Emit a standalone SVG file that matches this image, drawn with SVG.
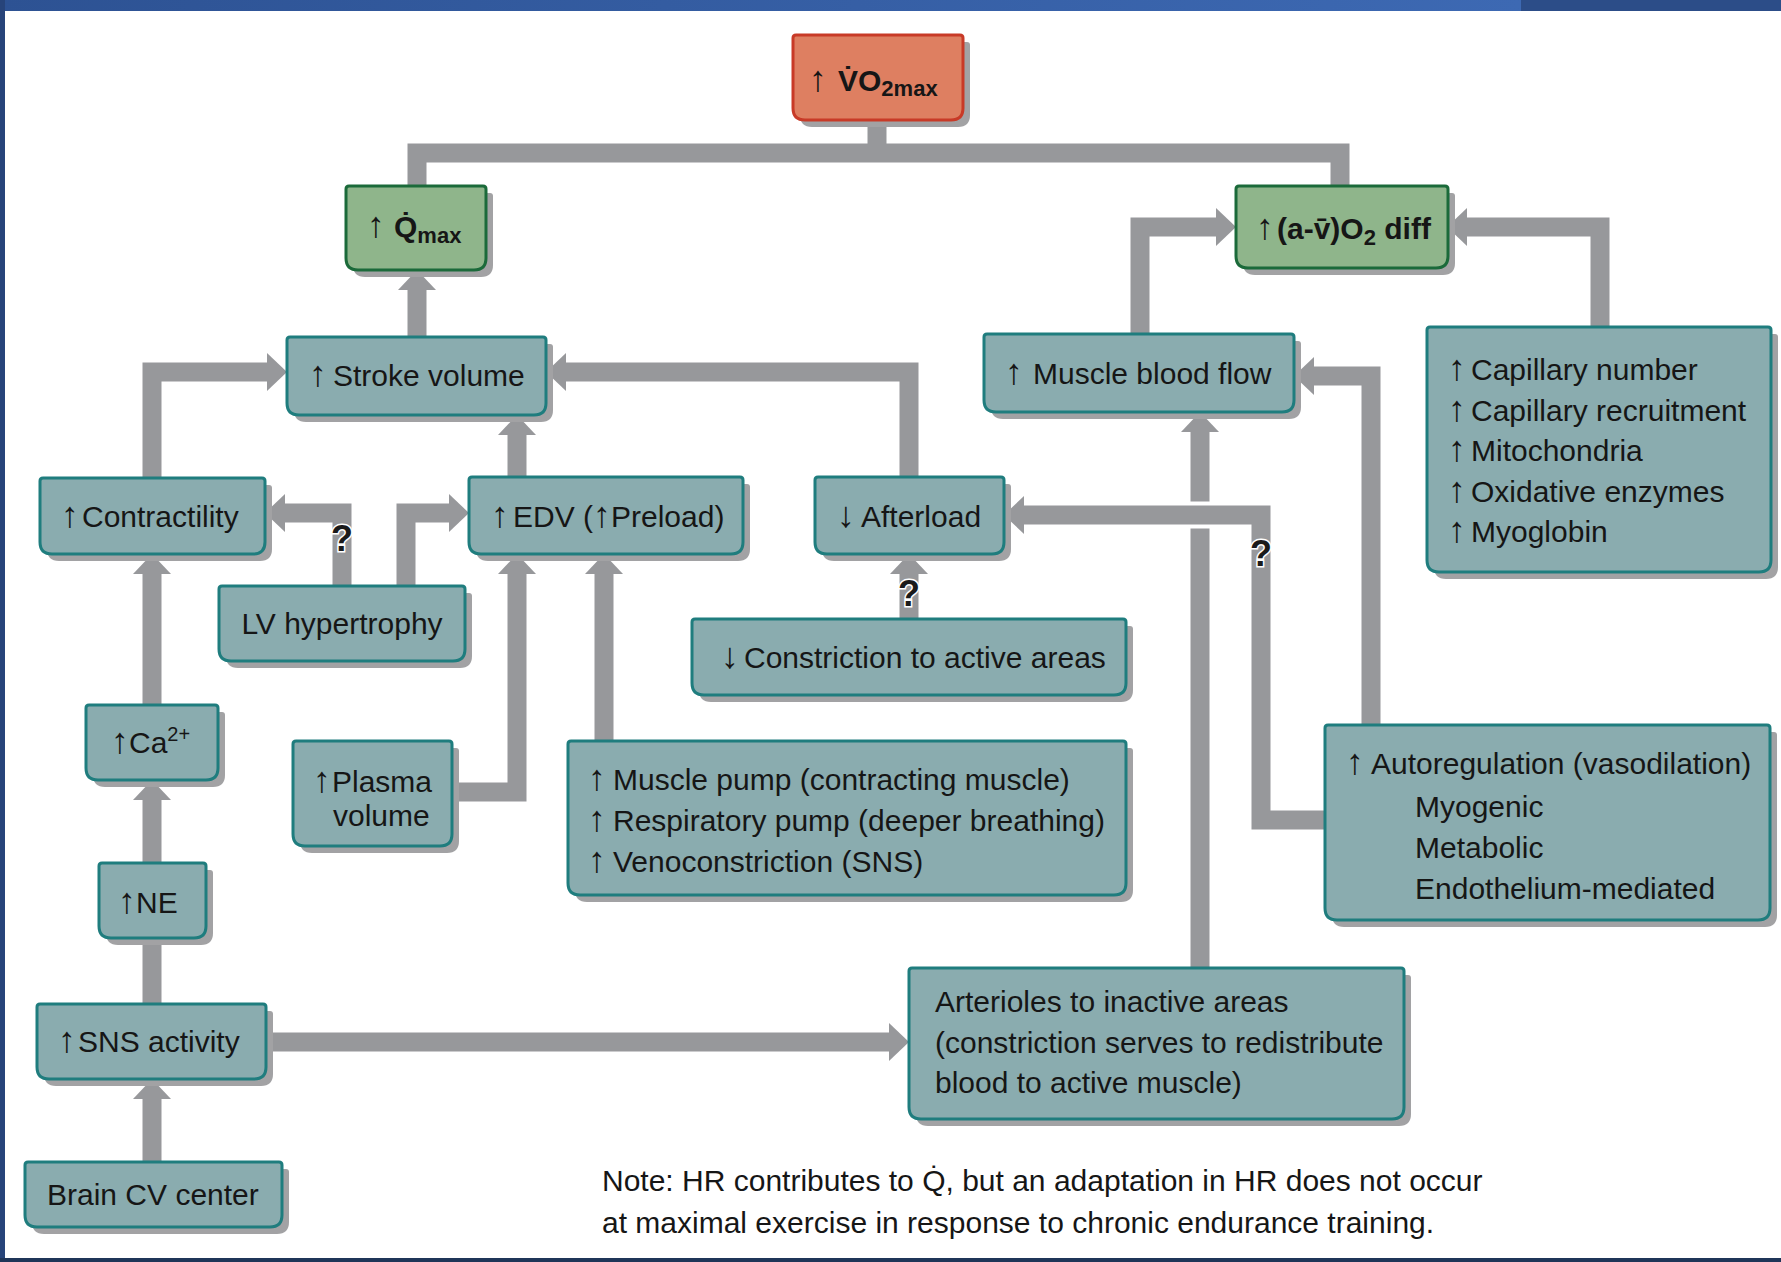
<svg xmlns="http://www.w3.org/2000/svg" xmlns:xlink="http://www.w3.org/1999/xlink" width="1781" height="1262" viewBox="0 0 1781 1262">
<style>
.node{fill:#8aacaf;stroke:#1f7d7e;stroke-width:3}
.green{fill:#8fb58b;stroke:#1b6a3a}
.red{fill:#de7f61;stroke:#c83a27}
.sh{fill:#a2a2a4;stroke:none}
.t{font-family:"Liberation Sans",Arial,sans-serif;font-size:30px;fill:#161616;stroke:none}
.b{font-weight:bold}
.ar{font-size:36px;font-weight:bold}
.con{fill:none;stroke:#97989b;stroke-width:19;stroke-linejoin:miter;stroke-linecap:butt}
.q{font-family:"Liberation Sans",Arial,sans-serif;font-size:36px;font-weight:bold;fill:#1a1a1a;stroke:#ffffff;stroke-width:3;paint-order:stroke;text-anchor:middle}
</style>
<defs>
<linearGradient id="topg" x1="0" y1="0" x2="1" y2="0">
<stop offset="0" stop-color="#2d5293"/>
<stop offset="1" stop-color="#3d69b3"/>
</linearGradient>
<marker id="ah" markerUnits="userSpaceOnUse" markerWidth="22" markerHeight="40" viewBox="0 -20 22 40" refX="0" refY="0" orient="auto" overflow="visible">
<path d="M0,-19 L20,0 L0,19 Z" fill="#97989b"/>
</marker>
</defs>
<rect x="0" y="0" width="1781" height="1262" fill="#ffffff"/>
<rect x="0" y="0" width="1521" height="11" fill="url(#topg)"/>
<rect x="1521" y="0" width="260" height="11" fill="#2c4d88"/>
<rect x="0" y="0" width="5" height="1262" fill="#27447a"/>
<rect x="0" y="1258" width="1781" height="4" fill="#1f3558"/>

<g id="connectors">
<path class="con" d="M417,186 V153 H1340 V186"/>
<path class="con" d="M877,120 V153"/>
<path class="con" d="M417,337 V290" marker-end="url(#ah)"/>
<path class="con" d="M152,478 V372 H267" marker-end="url(#ah)"/>
<path class="con" d="M517,477 V435" marker-end="url(#ah)"/>
<path class="con" d="M909,477 V372 H566" marker-end="url(#ah)"/>
<path class="con" d="M342,586 V513 H285" marker-end="url(#ah)"/>
<path class="con" d="M406,586 V513 H449" marker-end="url(#ah)"/>
<path class="con" d="M452,792 H517 V574" marker-end="url(#ah)"/>
<path class="con" d="M604,741 V574" marker-end="url(#ah)"/>
<path class="con" d="M909,619 V574" marker-end="url(#ah)"/>
<path class="con" d="M1200,968 V432" marker-end="url(#ah)"/>
<path d="M1186,515 H1214" fill="none" stroke="#ffffff" stroke-width="27"/>
<path class="con" d="M1325,820 H1261 V515 H1024" marker-end="url(#ah)"/>
<path class="con" d="M1371,725 V376 H1314" marker-end="url(#ah)"/>
<path class="con" d="M1140,334 V227 H1216" marker-end="url(#ah)"/>
<path class="con" d="M1600,327 V227 H1467" marker-end="url(#ah)"/>
<path class="con" d="M152,705 V574" marker-end="url(#ah)"/>
<path class="con" d="M152,863 V800" marker-end="url(#ah)"/>
<path class="con" d="M152,1004 V938"/>
<path class="con" d="M152,1162 V1099" marker-end="url(#ah)"/>
<path class="con" d="M266,1042 H889" marker-end="url(#ah)"/>
<text class="q" x="342" y="551">?</text>
<text class="q" x="909" y="606">?</text>
<text class="q" x="1261" y="566">?</text>
</g>

<g id="n-vo2" class="node red">
<use xlink:href="#b-vo2" class="sh" transform="translate(7,7)"/>
<path id="b-vo2" d="M796,35 H960 Q963,35 963,38 V108 Q963,120 951,120 H805 Q793,120 793,108 V38 Q793,35 796,35 Z"/>
<text class="t b" x="809" y="91"><tspan class="ar">↑</tspan><tspan x="838">V̇O</tspan><tspan font-size="22" dy="5">2max</tspan></text>
</g>

<g id="n-qmax" class="node green">
<use xlink:href="#b-qmax" class="sh" transform="translate(7,7)"/>
<path id="b-qmax" d="M349,186 H483 Q486,186 486,189 V258 Q486,270 474,270 H358 Q346,270 346,258 V189 Q346,186 349,186 Z"/>
<text class="t b" x="367" y="237"><tspan class="ar">↑</tspan><tspan x="394">Q̇</tspan><tspan font-size="22" dy="6">max</tspan></text>
</g>

<g id="n-avo2" class="node green">
<use xlink:href="#b-avo2" class="sh" transform="translate(7,7)"/>
<path id="b-avo2" d="M1239,186 H1445 Q1448,186 1448,189 V256 Q1448,268 1436,268 H1248 Q1236,268 1236,256 V189 Q1236,186 1239,186 Z"/>
<text class="t b" x="1256" y="239"><tspan class="ar">↑</tspan><tspan x="1277">(a-v̄)O</tspan><tspan font-size="22" dy="6">2</tspan><tspan dy="-6"> diff</tspan></text>
</g>

<g id="n-sv" class="node">
<use xlink:href="#b-sv" class="sh" transform="translate(7,7)"/>
<path id="b-sv" d="M290,337 H543 Q546,337 546,340 V403 Q546,415 534,415 H299 Q287,415 287,403 V340 Q287,337 290,337 Z"/>
<text class="t" x="309" y="386"><tspan class="ar">↑</tspan><tspan x="333">Stroke volume</tspan></text>
</g>

<g id="n-mbf" class="node">
<use xlink:href="#b-mbf" class="sh" transform="translate(7,7)"/>
<path id="b-mbf" d="M987,334 H1291 Q1294,334 1294,337 V400 Q1294,412 1282,412 H996 Q984,412 984,400 V337 Q984,334 987,334 Z"/>
<text class="t" x="1005" y="384"><tspan class="ar">↑</tspan><tspan x="1033">Muscle blood flow</tspan></text>
</g>

<g id="n-cap" class="node">
<use xlink:href="#b-cap" class="sh" transform="translate(7,7)"/>
<path id="b-cap" d="M1430,327 H1768 Q1771,327 1771,330 V560 Q1771,572 1759,572 H1439 Q1427,572 1427,560 V330 Q1427,327 1430,327 Z"/>
<text class="t" x="1448" y="380"><tspan class="ar">↑</tspan><tspan x="1471">Capillary number</tspan></text>
<text class="t" x="1448" y="421"><tspan class="ar">↑</tspan><tspan x="1471">Capillary recruitment</tspan></text>
<text class="t" x="1448" y="461"><tspan class="ar">↑</tspan><tspan x="1471">Mitochondria</tspan></text>
<text class="t" x="1448" y="502"><tspan class="ar">↑</tspan><tspan x="1471">Oxidative enzymes</tspan></text>
<text class="t" x="1448" y="542"><tspan class="ar">↑</tspan><tspan x="1471">Myoglobin</tspan></text>
</g>

<g id="n-contr" class="node">
<use xlink:href="#b-contr" class="sh" transform="translate(7,7)"/>
<path id="b-contr" d="M43,478 H262 Q265,478 265,481 V542 Q265,554 253,554 H52 Q40,554 40,542 V481 Q40,478 43,478 Z"/>
<text class="t" x="61" y="527"><tspan class="ar">↑</tspan><tspan x="82">Contractility</tspan></text>
</g>

<g id="n-edv" class="node">
<use xlink:href="#b-edv" class="sh" transform="translate(7,7)"/>
<path id="b-edv" d="M472,477 H740 Q743,477 743,480 V542 Q743,554 731,554 H481 Q469,554 469,542 V480 Q469,477 472,477 Z"/>
<text class="t" x="491" y="527"><tspan class="ar">↑</tspan><tspan x="513">EDV (</tspan><tspan class="ar">↑</tspan><tspan>Preload)</tspan></text>
</g>

<g id="n-after" class="node">
<use xlink:href="#b-after" class="sh" transform="translate(7,7)"/>
<path id="b-after" d="M818,477 H1001 Q1004,477 1004,480 V542 Q1004,554 992,554 H827 Q815,554 815,542 V480 Q815,477 818,477 Z"/>
<text class="t" x="837" y="527"><tspan class="ar">↓</tspan><tspan x="861">Afterload</tspan></text>
</g>

<g id="n-lv" class="node">
<use xlink:href="#b-lv" class="sh" transform="translate(7,7)"/>
<path id="b-lv" d="M222,586 H462 Q465,586 465,589 V649 Q465,661 453,661 H231 Q219,661 219,649 V589 Q219,586 222,586 Z"/>
<text class="t" x="342" y="634" text-anchor="middle">LV hypertrophy</text>
</g>

<g id="n-constr" class="node">
<use xlink:href="#b-constr" class="sh" transform="translate(7,7)"/>
<path id="b-constr" d="M695,619 H1123 Q1126,619 1126,622 V683 Q1126,695 1114,695 H704 Q692,695 692,683 V622 Q692,619 695,619 Z"/>
<text class="t" x="721" y="668"><tspan class="ar">↓</tspan><tspan x="744">Constriction to active areas</tspan></text>
</g>

<g id="n-ca" class="node">
<use xlink:href="#b-ca" class="sh" transform="translate(7,7)"/>
<path id="b-ca" d="M89,705 H215 Q218,705 218,708 V768 Q218,780 206,780 H98 Q86,780 86,768 V708 Q86,705 89,705 Z"/>
<text class="t" x="111" y="753"><tspan class="ar">↑</tspan><tspan x="129">Ca</tspan><tspan font-size="20" dy="-12">2+</tspan></text>
</g>

<g id="n-plasma" class="node">
<use xlink:href="#b-plasma" class="sh" transform="translate(7,7)"/>
<path id="b-plasma" d="M296,741 H449 Q452,741 452,744 V834 Q452,846 440,846 H305 Q293,846 293,834 V744 Q293,741 296,741 Z"/>
<text class="t" x="313" y="792"><tspan class="ar">↑</tspan><tspan x="332">Plasma</tspan></text>
<text class="t" x="333" y="826">volume</text>
</g>

<g id="n-pump" class="node">
<use xlink:href="#b-pump" class="sh" transform="translate(7,7)"/>
<path id="b-pump" d="M571,741 H1123 Q1126,741 1126,744 V883 Q1126,895 1114,895 H580 Q568,895 568,883 V744 Q568,741 571,741 Z"/>
<text class="t" x="588" y="790"><tspan class="ar">↑</tspan><tspan x="613">Muscle pump (contracting muscle)</tspan></text>
<text class="t" x="588" y="831"><tspan class="ar">↑</tspan><tspan x="613">Respiratory pump (deeper breathing)</tspan></text>
<text class="t" x="588" y="872"><tspan class="ar">↑</tspan><tspan x="613">Venoconstriction (SNS)</tspan></text>
</g>

<g id="n-auto" class="node">
<use xlink:href="#b-auto" class="sh" transform="translate(7,7)"/>
<path id="b-auto" d="M1328,725 H1767 Q1770,725 1770,728 V908 Q1770,920 1758,920 H1337 Q1325,920 1325,908 V728 Q1325,725 1328,725 Z"/>
<text class="t" x="1346" y="774"><tspan class="ar">↑</tspan><tspan x="1371">Autoregulation (vasodilation)</tspan></text>
<text class="t" x="1415" y="817">Myogenic</text>
<text class="t" x="1415" y="858">Metabolic</text>
<text class="t" x="1415" y="899">Endothelium-mediated</text>
</g>

<g id="n-ne" class="node">
<use xlink:href="#b-ne" class="sh" transform="translate(7,7)"/>
<path id="b-ne" d="M102,863 H203 Q206,863 206,866 V926 Q206,938 194,938 H111 Q99,938 99,926 V866 Q99,863 102,863 Z"/>
<text class="t" x="118" y="913"><tspan class="ar">↑</tspan><tspan x="136">NE</tspan></text>
</g>

<g id="n-sns" class="node">
<use xlink:href="#b-sns" class="sh" transform="translate(7,7)"/>
<path id="b-sns" d="M40,1004 H263 Q266,1004 266,1007 V1067 Q266,1079 254,1079 H49 Q37,1079 37,1067 V1007 Q37,1004 40,1004 Z"/>
<text class="t" x="58" y="1052"><tspan class="ar">↑</tspan><tspan x="78">SNS activity</tspan></text>
</g>

<g id="n-art" class="node">
<use xlink:href="#b-art" class="sh" transform="translate(7,7)"/>
<path id="b-art" d="M912,968 H1401 Q1404,968 1404,971 V1107 Q1404,1119 1392,1119 H921 Q909,1119 909,1107 V971 Q909,968 912,968 Z"/>
<text class="t" x="935" y="1012">Arterioles to inactive areas</text>
<text class="t" x="935" y="1053">(constriction serves to redistribute</text>
<text class="t" x="935" y="1093">blood to active muscle)</text>
</g>

<g id="n-brain" class="node">
<use xlink:href="#b-brain" class="sh" transform="translate(7,7)"/>
<path id="b-brain" d="M28,1162 H279 Q282,1162 282,1165 V1215 Q282,1227 270,1227 H37 Q25,1227 25,1215 V1165 Q25,1162 28,1162 Z"/>
<text class="t" x="47" y="1205">Brain CV center</text>
</g>

<g id="note">
<text class="t" x="602" y="1191">Note: HR contributes to Q̇, but an adaptation in HR does not occur</text>
<text class="t" x="602" y="1233">at maximal exercise in response to chronic endurance training.</text>
</g>
</svg>
